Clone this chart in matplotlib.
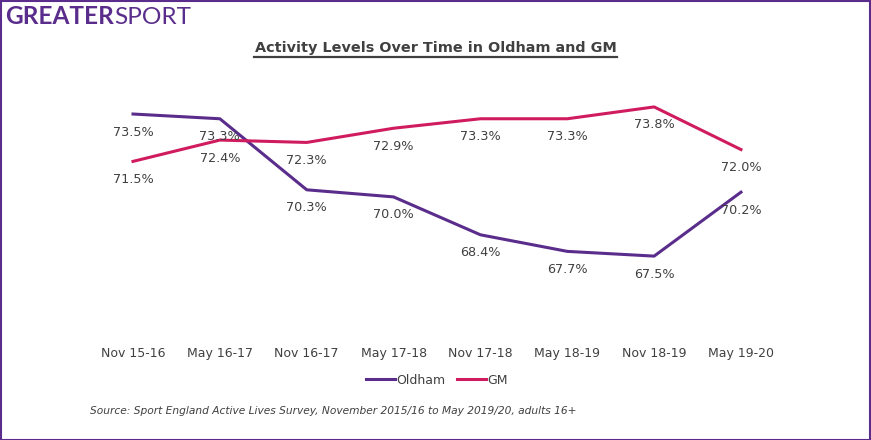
import numpy as np
import matplotlib.pyplot as plt
from matplotlib.patches import Rectangle

plt.rcParams['font.family'] = ['DejaVu Sans']

periods = ["Nov 15-16", "May 16-17", "Nov 16-17", "May 17-18",
           "Nov 17-18", "May 18-19", "Nov 18-19", "May 19-20"]
oldham = [73.5, 73.3, 70.3, 70.0, 68.4, 67.7, 67.5, 70.2]
gm = [71.5, 72.4, 72.3, 72.9, 73.3, 73.3, 73.8, 72.0]

purple = "#5a2d8c"
pink = "#d01c5f"
txt = "#404040"

fig = plt.figure(figsize=(8.71, 4.40), dpi=100)
W, H = 871, 440

# plot area in pixels: x 89.6..784.4, y 78.5..339 (top..bottom)
ax = fig.add_axes([89.6 / W, 1 - 339 / H, (784.4 - 89.6) / W, (339 - 78.5) / H])
x = np.arange(len(periods))
ax.plot(x, oldham, color=purple, lw=2.2, label="Oldham")
ax.plot(x, gm, color=pink, lw=2.2, label="GM")
for xi, v in zip(x, oldham):
    ax.annotate(f"{v:.1f}%", (xi, v), xytext=(0, -13), textcoords="offset points",
                ha="center", va="center", fontsize=9.2, color=txt)
for xi, v in zip(x, gm):
    ax.annotate(f"{v:.1f}%", (xi, v), xytext=(0, -13), textcoords="offset points",
                ha="center", va="center", fontsize=9.2, color=txt)

ax.set_xlim(-0.5, len(periods) - 0.5)
ax.set_ylim(64, 75)
ax.set_yticks([])
ax.set_xticks(x)
ax.set_xticklabels(periods, fontsize=9, color=txt)
ax.tick_params(axis="x", length=0, pad=6)
for s in ax.spines.values():
    s.set_visible(False)

ax.legend(loc="upper center", bbox_to_anchor=(0.5, -0.09), ncol=2, frameon=False,
          fontsize=9, handlelength=2.3, handletextpad=0.15, columnspacing=0.9,
          labelcolor=txt)

# title
fig.text(436 / W, 1 - 48 / H, "Activity Levels Over Time in Oldham and GM",
         ha="center", va="center", fontsize=10.4, fontweight="bold", color=txt)
fig.add_artist(plt.Line2D([254 / W, 617 / W], [1 - 57 / H, 1 - 57 / H],
                          color=txt, lw=1.6))

# logo
t1 = fig.text(5 / W, 1 - 24 / H, "GREATER", ha="left", va="baseline",
              fontsize=17.6, fontweight="bold", color=purple, family="Lato")
fig.canvas.draw()
bb = t1.get_window_extent()
fig.text(bb.x1 / W, 1 - 24 / H, "SPORT", ha="left", va="baseline",
         fontsize=17.6, fontweight="normal", color=purple, family="Lato")

# source
fig.text(90 / W, 1 - 411 / H,
         "Source: Sport England Active Lives Survey, November 2015/16 to May 2019/20, adults 16+",
         ha="left", va="center", fontsize=7.7, style="italic", color=txt)

# frame
fig.add_artist(Rectangle((0.5 / W, 0.5 / H), 1 - 1.5 / W, 1 - 1.5 / H,
                         transform=fig.transFigure, fill=False, ec=purple, lw=1.5))

fig.savefig("out.png", dpi=100)
